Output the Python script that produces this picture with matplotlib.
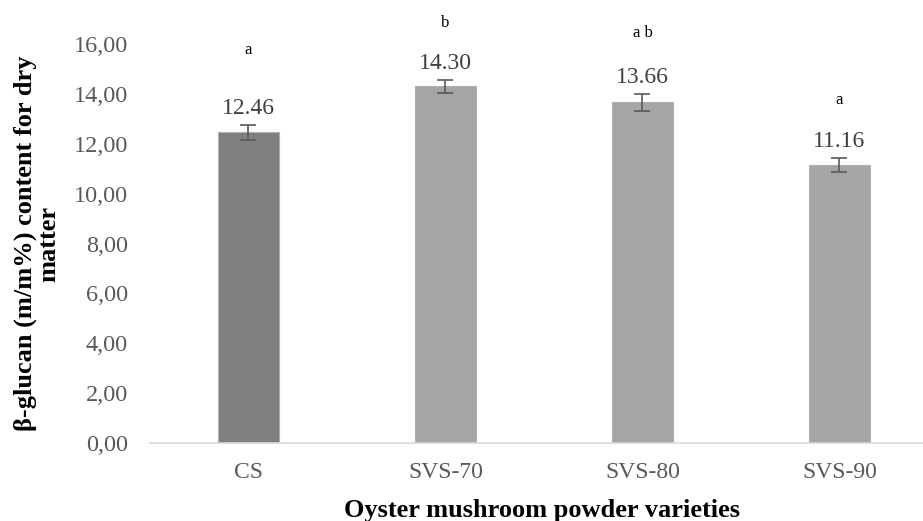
import matplotlib.pyplot as plt
from matplotlib.ticker import FuncFormatter

# data
varieties = ['CS', 'SVS-70', 'SVS-80', 'SVS-90']
beta_glucan = [12.46, 14.30, 13.66, 11.16]
std_err = [0.30, 0.26, 0.35, 0.28]
letters = ['a', 'b', 'a b', 'a']
letter_y = [15.76, 16.84, 16.44, 13.75]
bar_colors = ['#7f7f7f', '#a5a5a5', '#a5a5a5', '#a5a5a5']


def plot_chart():
    fig = plt.figure(figsize=(9.23, 5.21), dpi=100)
    ax = fig.add_axes([0.1625, 0.1497, 0.8537, 0.7658])

    serif = ['Liberation Serif', 'DejaVu Serif']
    x = list(range(len(varieties)))

    ax.bar(x, beta_glucan, width=0.31, color=bar_colors,
           edgecolor='#b0b0b0', linewidth=0.8, zorder=2)
    ax.errorbar(x, beta_glucan, yerr=std_err, fmt='none', ecolor='#595959',
                elinewidth=1.2, capsize=6, capthick=1.2, zorder=3)

    # value labels above the error bars
    for xi, v, e in zip(x, beta_glucan, std_err):
        ax.text(xi, v + e + 0.66, f'{v:.2f}', ha='center', va='center',
                fontsize=17, color='#404040', family=serif)

    # significance letters
    for xi, lt, ly in zip(x, letters, letter_y):
        ax.text(xi, ly, lt, ha='center', va='center', fontsize=12,
                color='black', family=serif, clip_on=False)

    ax.set_xlim(-0.5, 3.5)
    ax.set_ylim(0, 16)
    ax.set_yticks([0, 2, 4, 6, 8, 10, 12, 14, 16])
    ax.yaxis.set_major_formatter(FuncFormatter(lambda v, p: f'{v:.2f}'.replace('.', ',')))
    ax.set_xticks(x)
    ax.set_xticklabels(varieties)

    for s in ['top', 'right', 'left']:
        ax.spines[s].set_visible(False)
    ax.spines['bottom'].set_color('#d9d9d9')
    ax.spines['bottom'].set_linewidth(1.2)

    ax.tick_params(axis='both', length=0, labelcolor='#595959')
    ax.tick_params(axis='y', pad=16, labelsize=17.5)
    ax.tick_params(axis='x', pad=14, labelsize=17)
    for lbl in ax.get_xticklabels() + ax.get_yticklabels():
        lbl.set_family(serif)

    ax.set_xlabel('Oyster mushroom powder varieties', fontsize=19,
                  fontweight='bold', family=serif, va='center')
    ax.set_ylabel('β-glucan (m/m%) content for dry\nmatter', fontsize=19,
                  fontweight='bold', family=serif, va='center', linespacing=1.0)
    ax.xaxis.set_label_coords(0.497, -0.168)
    ax.yaxis.set_label_coords(-0.1434, 0.50)

    fig.savefig('out.png', dpi=100)


if __name__ == '__main__':
    plot_chart()
